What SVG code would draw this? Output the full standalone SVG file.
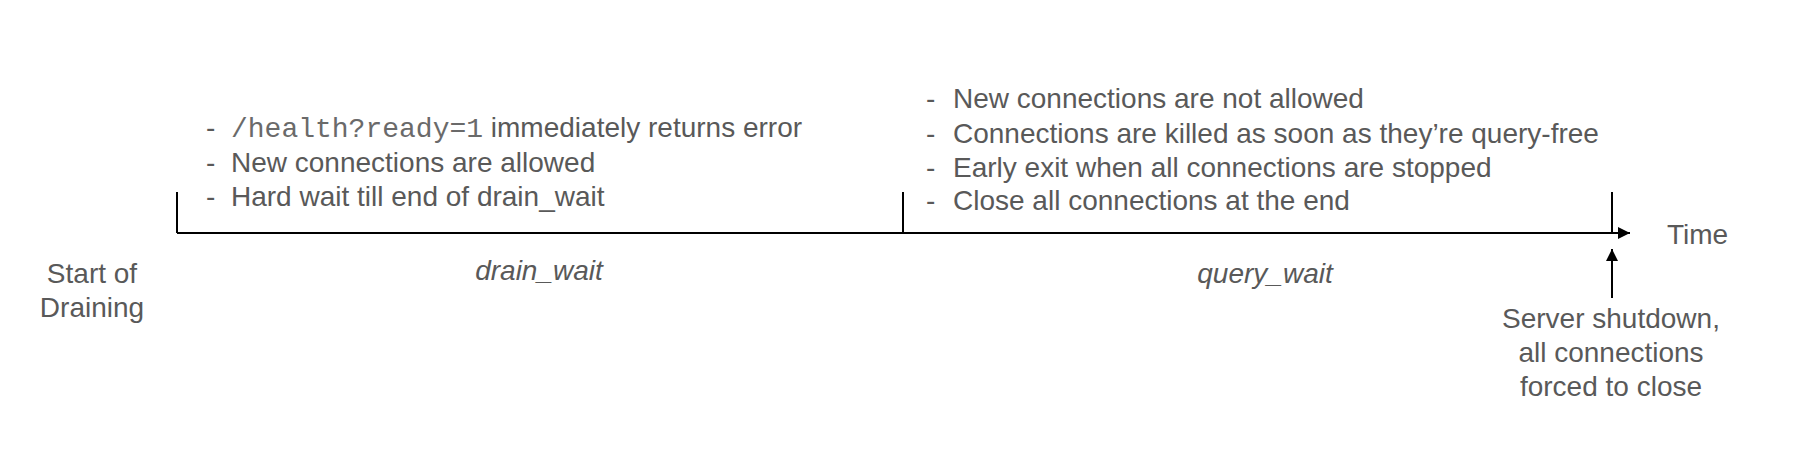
<svg xmlns="http://www.w3.org/2000/svg" width="1814" height="450" viewBox="0 0 1814 450">
<style>
.t{font-family:"Liberation Sans",Arial,sans-serif;font-size:28px;fill:#595959}
.m{font-family:"Liberation Mono","Courier New",monospace;font-size:28px;fill:#6a6a6a}
.i{font-style:italic}
.c{text-anchor:middle}
.ln{stroke:#000;stroke-width:2;fill:none}
</style>
<defs>
<marker id="ah" viewBox="0 0 10 10" refX="10" refY="5" markerWidth="12" markerHeight="12" markerUnits="userSpaceOnUse" orient="auto">
<path d="M0,0 L10,5 L0,10 z" fill="#000"/>
</marker>
</defs>
<rect width="1814" height="450" fill="#fff"/>
<g id="connectors">
<line class="ln" x1="177" y1="233" x2="1630" y2="233" marker-end="url(#ah)"/>
<line class="ln" x1="177" y1="192" x2="177" y2="233"/>
<line class="ln" x1="903" y1="192" x2="903" y2="232"/>
<line class="ln" x1="1612" y1="192" x2="1612" y2="233"/>
<line class="ln" x1="1612" y1="298" x2="1612" y2="249" marker-end="url(#ah)"/>
</g>
<g id="drain-notes">
<text class="t" x="206" y="137">-</text><text class="m" x="231" y="137">/health?ready=1<tspan class="t"> immediately returns error</tspan></text>
<text class="t" x="206" y="172">-</text><text class="t" x="231" y="172">New connections are allowed</text>
<text class="t" x="206" y="206">-</text><text class="t" x="231" y="206">Hard wait till end of drain_wait</text>
</g>
<g id="query-notes">
<text class="t" x="926" y="108">-</text><text class="t" x="953" y="108">New connections are not allowed</text>
<text class="t" x="926" y="143">-</text><text class="t" x="953" y="143">Connections are killed as soon as they’re query-free</text>
<text class="t" x="926" y="177">-</text><text class="t" x="953" y="177">Early exit when all connections are stopped</text>
<text class="t" x="926" y="210">-</text><text class="t" x="953" y="210">Close all connections at the end</text>
</g>
<g id="start">
<text class="t c" x="92" y="283">Start of</text>
<text class="t c" x="92" y="317">Draining</text>
</g>
<g id="drain-wait"><text class="t i c" x="539" y="280">drain_wait</text></g>
<g id="query-wait"><text class="t i c" x="1265" y="283">query_wait</text></g>
<g id="time"><text class="t" x="1667" y="244">Time</text></g>
<g id="shutdown">
<text class="t c" x="1611" y="328">Server shutdown,</text>
<text class="t c" x="1611" y="362">all connections</text>
<text class="t c" x="1611" y="396">forced to close</text>
</g>
</svg>
